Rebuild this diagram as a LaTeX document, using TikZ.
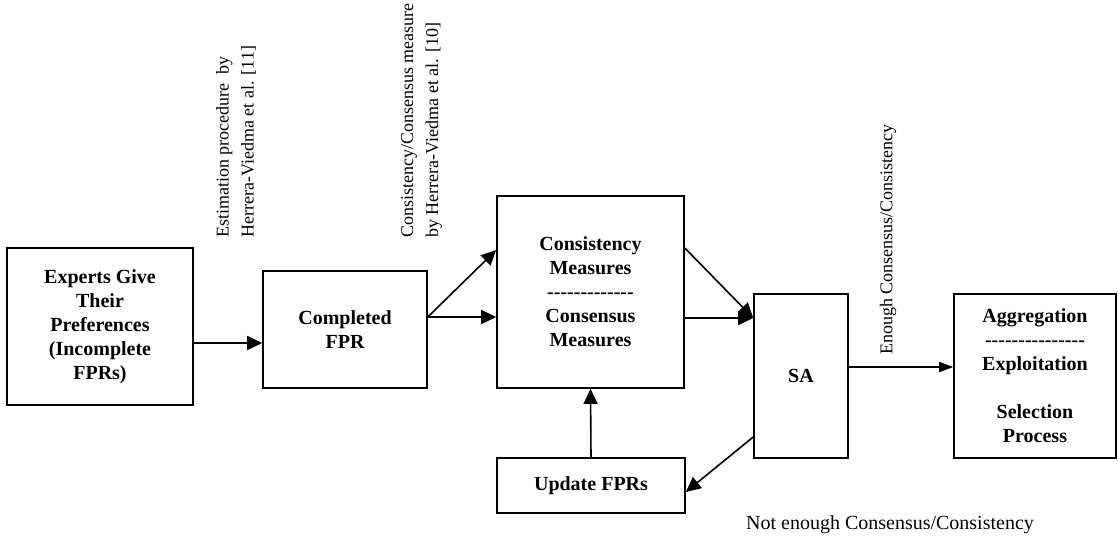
\documentclass[tikz,border=0pt]{standalone}
\usepackage{fontspec}
\setmainfont{Liberation Serif}
\usetikzlibrary{arrows.meta}
\newcommand\hy{-\kern0pt}
\begin{document}
\begin{tikzpicture}[x=0.5pt,y=-0.5pt,
  box/.style={draw,line width=0.8pt,inner sep=0pt,align=center,
    font=\fontsize{10}{12}\selectfont\bfseries},
  arr/.style={line width=0.8pt,-{Triangle[length=7.5pt,width=7pt]}},
  arrn/.style={line width=0.8pt,-{Triangle[length=7pt,width=5pt]}},
  rlab/.style={rotate=90,anchor=west,align=left,inner sep=0pt,
    font=\fontsize{9}{12.5}\selectfont},
  lab/.style={inner sep=0pt,font=\fontsize{10}{12}\selectfont}]
\useasboundingbox (0,0) rectangle (1119,543);
% boxes
\node[box,minimum width=93pt,minimum height=78.5pt] (exp) at (100,326.5)
  {Experts Give\\Their\\Preferences\\(Incomplete\\FPRs)};
\node[box,minimum width=82pt,minimum height=58.5pt] (comp) at (345,329.5)
  {Completed\\FPR};
\node[box,minimum width=93.5pt,minimum height=96pt] (cons) at (590.5,292)
  {Consistency\\Measures\\\hy\hy\hy\hy\hy\hy\hy\hy\hy\hy\hy\hy\hy\\Consensus\\Measures};
\node[box,minimum width=94pt,minimum height=27.5pt] (upd) at (591,485.5)
  {Update FPRs};
\node[box,minimum width=47pt,minimum height=82pt] (sa) at (801,376) {SA};
\node[box,minimum width=81pt,minimum height=82pt] (agg) at (1035,376)
  {Aggregation\\\hy\hy\hy\hy\hy\hy\hy\hy\hy\hy\hy\hy\hy\hy\hy\\Exploitation\\[12pt]Selection\\Process};
% helper levels
\coordinate (a1) at (0,343);
\coordinate (a2) at (0,317);
\coordinate (a3) at (0,250);
\coordinate (a4) at (0,318);
\coordinate (a5) at (0,248);
\coordinate (a6) at (0,437);
\coordinate (a7) at (0,492);
\coordinate (a8) at (0,367);
% connectors
\draw[arr] (exp.east |- a1) -- (comp.west |- a1);
\draw[arr] (comp.east |- a2) -- (cons.west |- a2);
\draw[arr] (comp.east |- a2) -- (cons.west |- a3);
\draw[arr] (cons.east |- a4) -- (sa.west |- a4);
\draw[arr] (cons.east |- a5) -- (sa.west |- a4);
\draw[arr] (upd.north) -- (cons.south);
\draw[arr] (sa.west |- a6) -- (upd.east |- a7);
\draw[arrn] (sa.east |- a8) -- (agg.west |- a8);
% labels
\node[rlab] (l1) at (236,238) {Estimation procedure~ by\\Herrera-Viedma et al. [11]};
\node[rlab] (l2) at (421.5,238) {Consistency/Consensus measure\\by Herrera-Viedma et al. [10]};
\node[rlab] (l3) at (888,355) {Enough Consensus/Consistency};
\node[lab] (l4) at (890,525) {Not enough Consensus/Consistency};
\end{tikzpicture}
\end{document}
